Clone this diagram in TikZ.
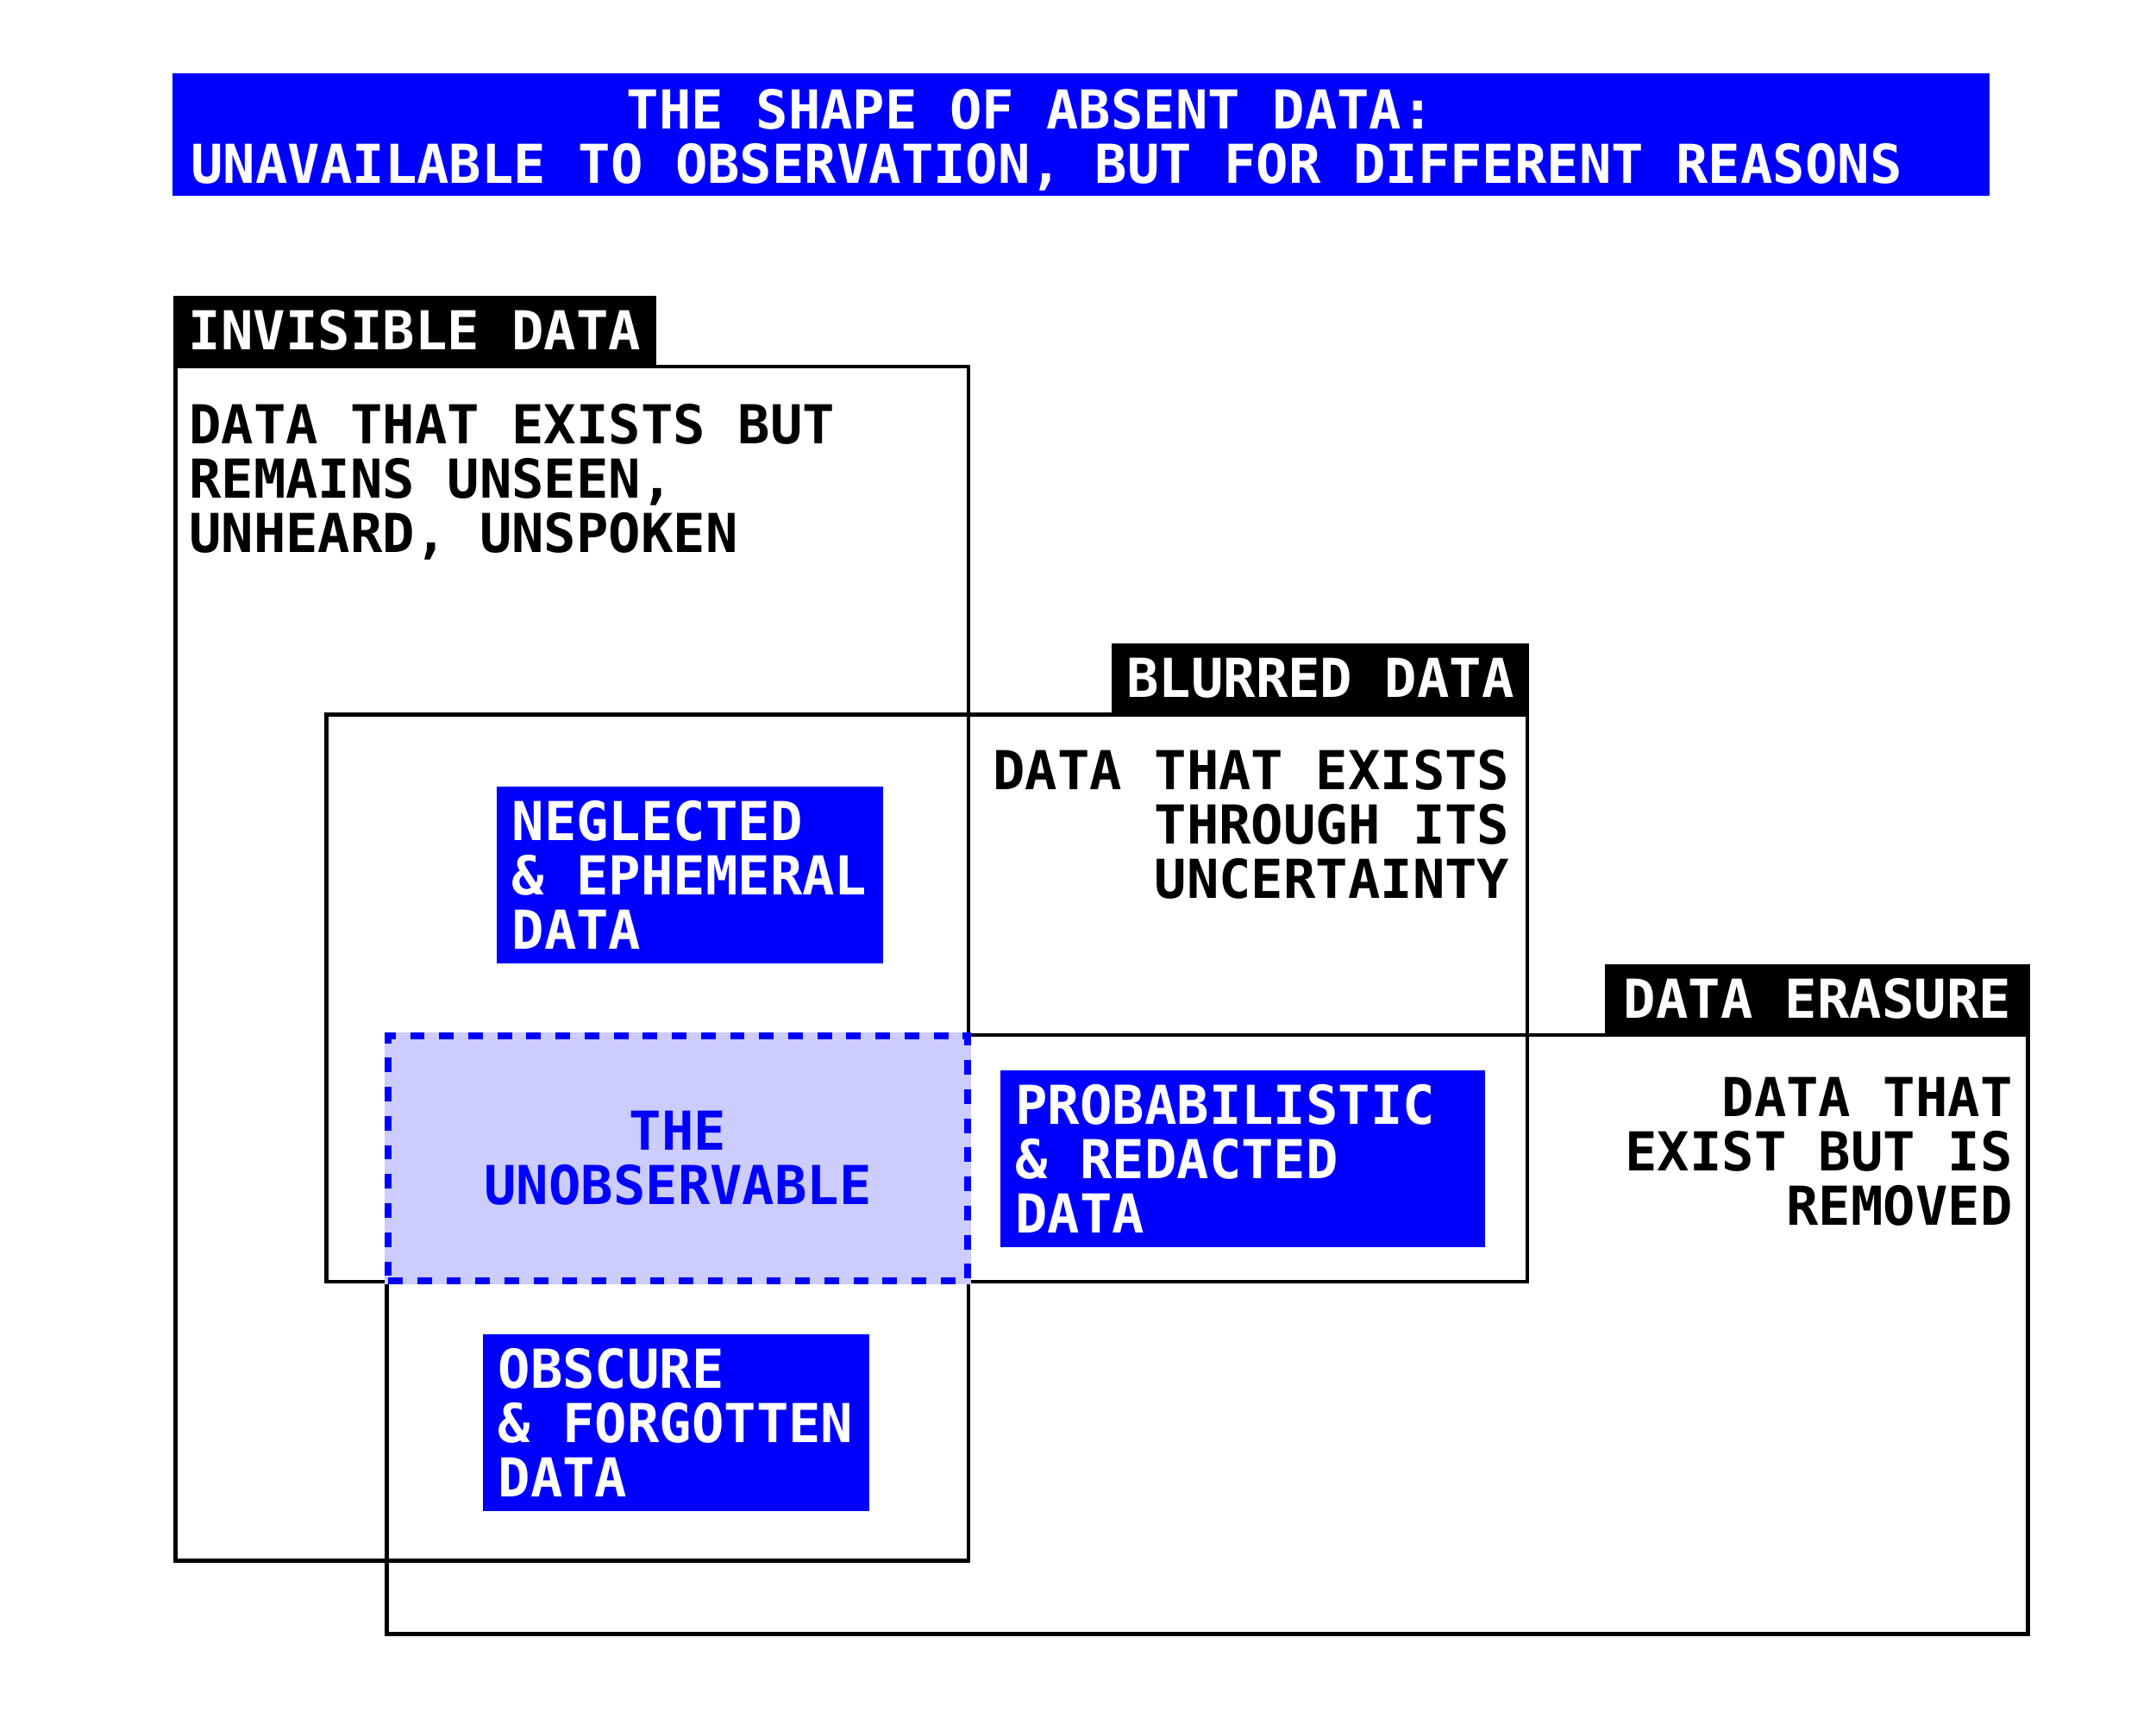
\documentclass[tikz,border=0pt]{standalone}
\usepackage{fontspec}
\setmainfont{DejaVu Sans Mono}
\definecolor{absentblue}{HTML}{0000FF}
\definecolor{unobsfill}{HTML}{CCCCFF}
\newdimen\pxu
\pxu=0.016cm

\begin{document}
\begin{tikzpicture}[x=0.016cm,y=-0.016cm]


\tikzset{mono/.style={font=\fontsize{17.7}{17.95}\selectfont\bfseries, inner sep=0pt, outer sep=0pt},}
\tikzset{banner/.style={fill=absentblue, inner sep=0pt, minimum width=1316.6\pxu, minimum height=88.6\pxu},}
\tikzset{zone/.style={draw, line width=1.3pt, inner sep=0pt},}
\tikzset{tag/.style={mono, fill=black, text=white, inner xsep=11\pxu, inner ysep=11\pxu, text height=28\pxu, text depth=0pt},}
\tikzset{blurb/.style={mono, text=black},}
\tikzset{bluebox/.style={mono, fill=absentblue, text=white, align=flush left, inner xsep=11\pxu, minimum height=128\pxu, anchor=north west},}
\tikzset{unobs/.style={mono, text=absentblue, fill=unobsfill, draw=absentblue, line width=2.3pt, dash pattern=on 4.8pt off 4.8pt, preaction={draw=unobsfill, solid, line width=2.3pt}, align=center},}

	\useasboundingbox (0,0) rectangle (1562.5,1250);

	\draw
		(783.3,97.4) node[banner] (title) {}
		(758.5,64.6) node[mono, text=white, align=center, anchor=north] (titletext) {THE SHAPE OF ABSENT DATA:\hphantom{:}\\UNAVAILABLE TO OBSERVATION, BUT FOR DIFFERENT REASONS};

	\draw
		(414.65,698.3) node[zone, minimum width=574.7\pxu, minimum height=865.4\pxu] (invisible) {}
		(671.65,723.25) node[zone, minimum width=870.3\pxu, minimum height=411.1\pxu] (blurred) {}
		(875,967.1) node[zone, minimum width=1189.4\pxu, minimum height=434.2\pxu] (erasure) {};

	\draw(invisible.north west) node[tag, anchor=south west] (invisibletag) {INVISIBLE DATA};
	\draw(blurred.north east) node[tag, anchor=south east] (blurredtag) {BLURRED DATA};
	\draw(erasure.north east) node[tag, anchor=south east, minimum width=308\pxu] (erasuretag) {DATA ERASURE};

	\draw
		(137,292.5) node[blurb, anchor=north west, align=left] (invisiblenote) {DATA THAT EXISTS BUT\\REMAINS UNSEEN,\\UNHEARD, UNSPOKEN}
		(1094,543.1) node[blurb, anchor=north east, align=right] (blurrednote) {DATA THAT EXISTS\\THROUGH ITS\\UNCERTAINTY}
		(1458.5,780.8) node[blurb, anchor=north east, align=right] (erasurenote) {DATA THAT\\EXIST BUT IS\\REMOVED};

	\draw
		(491.3,839.4) node[unobs, minimum width=420\pxu, minimum height=177.2\pxu] (unobservable) {THE\\UNOBSERVABLE};

	\draw
		(360,570.2) node[bluebox, text width=258\pxu] (neglected) {NEGLECTED\\\& EPHEMERAL\\DATA}
		(724.9,775.6) node[bluebox, text width=329.4\pxu] (probabilistic) {PROBABILISTIC\\\& REDACTED\\DATA}
		(350,967) node[bluebox, text width=258\pxu] (obscure) {OBSCURE\\\& FORGOTTEN\\DATA};

\end{tikzpicture}
\end{document}
